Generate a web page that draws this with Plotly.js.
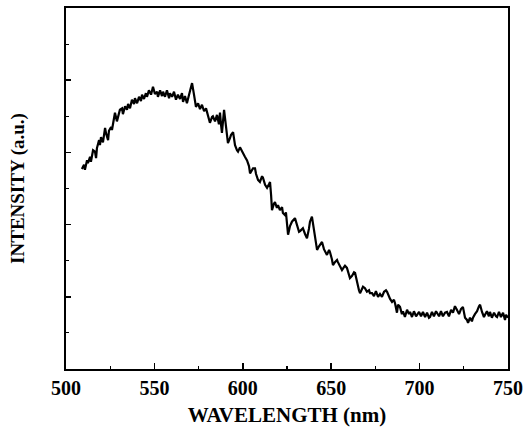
<!DOCTYPE html>
<html>
<head>
<meta charset="utf-8">
<script src="https://cdn.plot.ly/plotly-3.0.1.min.js"></script>
<style>html,body{margin:0;padding:0;background:#fff;}#chart{width:525px;height:436px;}</style>
</head>
<body>
<div id="chart"></div>
<script>
const wavelength = [509.0,510.2,510.7,511.9,512.4,513.6,514.1,515.3,516.4,517.0,517.5,518.7,519.2,519.8,520.9,522.1,522.6,523.8,524.3,525.5,526.0,527.1,527.7,528.8,529.4,530.5,531.7,532.2,533.4,534.5,535.1,536.2,537.3,538.5,539.0,540.2,541.3,542.4,543.0,544.1,545.2,545.8,546.9,548.1,549.2,550.3,551.5,552.0,553.2,554.3,554.9,556.0,557.1,558.3,558.8,560.0,561.1,562.2,563.3,564.5,565.6,566.2,567.3,568.4,569.6,570.1,571.3,572.4,573.5,574.7,575.8,576.9,578.1,579.2,579.7,580.9,581.4,582.6,583.1,584.3,585.4,586.5,587.1,587.7,588.2,589.4,590.5,591.6,592.8,593.3,594.5,595.6,596.7,597.3,598.4,599.5,600.1,601.2,602.4,603.5,604.1,605.2,605.8,606.9,607.5,608.6,609.7,610.9,611.4,612.6,613.7,614.8,615.4,616.0,616.5,617.6,618.2,619.3,619.9,621.0,622.2,622.7,623.9,624.4,625.6,626.7,627.8,629.5,630.7,631.8,632.4,633.5,634.0,635.2,636.3,637.4,638.0,639.1,640.3,641.4,642.0,643.1,644.2,644.8,645.9,647.1,647.6,648.8,649.3,650.4,651.0,652.1,653.3,653.8,655.0,656.1,657.2,657.8,658.9,660.1,660.6,661.8,662.9,663.5,664.6,665.7,666.3,667.4,668.0,669.1,670.2,671.4,671.9,673.1,674.2,675.3,676.5,677.6,678.7,679.9,681.0,681.6,682.7,683.3,684.4,685.5,686.1,687.2,687.8,688.9,690.0,690.6,691.7,692.9,694.0,694.6,695.7,696.8,698.0,698.5,699.7,700.8,701.9,703.1,704.2,705.3,705.9,707.0,708.1,709.3,709.8,711.0,712.1,713.2,714.4,715.5,716.6,717.8,718.9,720.0,721.1,722.3,723.4,724.5,725.7,726.8,727.4,728.5,729.6,730.2,731.3,732.5,733.6,734.2,735.3,736.4,737.0,738.1,739.2,739.8,740.9,742.1,743.2,743.8,744.9,746.0,747.2,748.3,748.9,750.0];
const intensity = [2.77,2.83,2.76,2.89,2.85,2.94,2.87,3.03,3.01,2.92,3.06,3.17,3.10,3.21,3.14,3.34,3.27,3.17,3.30,3.35,3.31,3.50,3.55,3.43,3.48,3.59,3.61,3.53,3.64,3.59,3.67,3.61,3.73,3.67,3.75,3.68,3.77,3.71,3.80,3.74,3.82,3.77,3.86,3.80,3.91,3.81,3.84,3.77,3.86,3.78,3.84,3.77,3.86,3.75,3.82,3.77,3.84,3.73,3.80,3.74,3.82,3.70,3.78,3.68,3.80,3.86,3.96,3.80,3.63,3.68,3.60,3.66,3.57,3.61,3.56,3.48,3.41,3.49,3.50,3.43,3.52,3.39,3.55,3.38,3.27,3.59,3.31,3.13,3.20,3.24,3.28,3.10,3.03,3.01,3.07,3.01,2.99,2.94,2.89,2.81,2.71,2.76,2.78,2.78,2.70,2.62,2.59,2.67,2.65,2.55,2.51,2.56,2.59,2.41,2.20,2.29,2.31,2.23,2.27,2.20,2.24,2.16,2.13,2.17,1.86,1.98,2.04,2.09,1.97,1.90,1.91,1.94,1.95,1.87,1.81,1.94,2.04,2.11,1.90,1.72,1.65,1.70,1.75,1.76,1.66,1.61,1.58,1.65,1.62,1.52,1.44,1.48,1.51,1.48,1.43,1.37,1.41,1.43,1.40,1.32,1.26,1.29,1.34,1.33,1.19,1.09,1.05,1.11,1.14,1.12,1.07,1.09,1.05,1.05,1.01,1.08,1.00,1.04,1.00,1.07,1.09,1.07,1.00,0.97,0.93,0.96,0.91,0.78,0.89,0.86,0.76,0.80,0.72,0.82,0.76,0.79,0.72,0.80,0.73,0.75,0.79,0.73,0.79,0.72,0.78,0.71,0.72,0.79,0.73,0.80,0.78,0.73,0.80,0.73,0.78,0.79,0.73,0.82,0.78,0.87,0.82,0.76,0.83,0.86,0.71,0.68,0.64,0.71,0.66,0.71,0.76,0.80,0.87,0.89,0.79,0.72,0.75,0.80,0.73,0.79,0.71,0.78,0.73,0.72,0.79,0.72,0.78,0.68,0.75,0.71];
const xTickValues = [500, 550, 600, 650, 700, 750];
const xTickLabels = ["500", "550", "600", "650", "700", "750"];

const serif = "Liberation Serif, Times New Roman, serif";

const trace = {
  x: wavelength,
  y: intensity,
  type: "scatter",
  mode: "lines",
  line: {color: "#000", width: 2.2},
  hoverinfo: "skip"
};

const layout = {
  width: 525,
  height: 436,
  margin: {l: 66, r: 17, t: 8, b: 67},
  paper_bgcolor: "#fff",
  plot_bgcolor: "#fff",
  showlegend: false,
  font: {family: serif, color: "#000"},
  xaxis: {
    range: [500, 750],
    tickmode: "array",
    tickvals: xTickValues,
    ticktext: xTickLabels,
    ticks: "inside",
    ticklen: 6,
    tickwidth: 1.5,
    tickcolor: "#000",
    minor: {dtick: 25, ticks: "inside", ticklen: 3, tickwidth: 1.2, tickcolor: "#000"},
    showline: true,
    linecolor: "#000",
    linewidth: 1.8,
    mirror: true,
    showgrid: false,
    zeroline: false,
    tickfont: {family: serif, size: 20, color: "#000", weight: "bold"},
    title: {text: "<b>WAVELENGTH (nm)</b>", font: {family: serif, size: 21, color: "#000"}, standoff: 9}
  },
  yaxis: {
    range: [0, 5],
    dtick: 1,
    tick0: 0,
    ticks: "inside",
    ticklen: 5,
    tickwidth: 1.5,
    tickcolor: "#000",
    minor: {dtick: 0.5, ticks: "inside", ticklen: 3, tickwidth: 1.2, tickcolor: "#000"},
    showticklabels: false,
    showline: true,
    linecolor: "#000",
    linewidth: 1.8,
    mirror: true,
    showgrid: false,
    zeroline: false,
    title: {text: "<b>INTENSITY (a.u.)</b>", font: {family: serif, size: 19, color: "#000"}, standoff: 34}
  }
};

Plotly.newPlot("chart", [trace], layout, {staticPlot: true, displayModeBar: false});
</script>
</body>
</html>
